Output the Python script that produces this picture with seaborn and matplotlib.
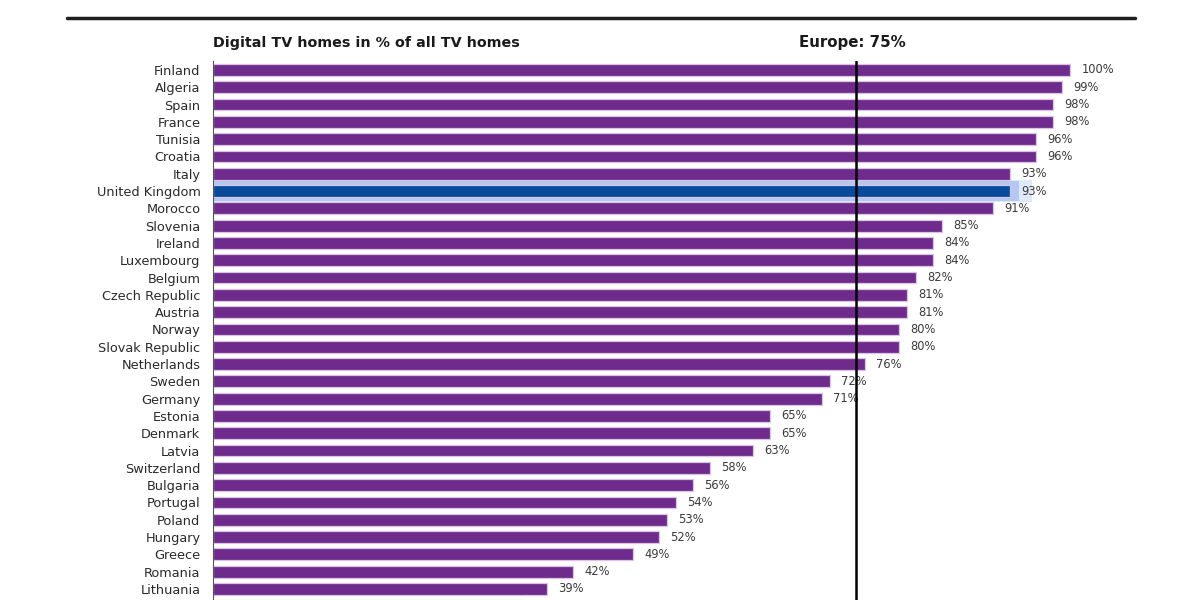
import matplotlib
matplotlib.use("Agg")
import matplotlib.pyplot as plt
import seaborn as sns
import numpy as np
from matplotlib.lines import Line2D

countries = ["Finland", "Algeria", "Spain", "France", "Tunisia", "Croatia", "Italy",
             "United Kingdom", "Morocco", "Slovenia", "Ireland", "Luxembourg", "Belgium",
             "Czech Republic", "Austria", "Norway", "Slovak Republic", "Netherlands",
             "Sweden", "Germany", "Estonia", "Denmark", "Latvia", "Switzerland",
             "Bulgaria", "Portugal", "Poland", "Hungary", "Greece", "Romania",
             "Lithuania", " "]
shares = [100, 99, 98, 98, 96, 96, 93, 93, 91, 85, 84, 84, 82, 81, 81, 80, 80, 76,
          72, 71, 65, 65, 63, 58, 56, 54, 53, 52, 49, 42, 39, 36]
europe_avg = 75
highlight = "United Kingdom"

purple = "#6E2B8B"
uk_blue = "#084B9C"
glow = "#A8C2F0"

sns.set_theme(style="white")
plt.rcParams['font.family'] = ['DejaVu Sans']

fig = plt.figure(figsize=(12, 6), dpi=100)
pitch = 17.3
top_px = 61.3
n = len(countries)
h_px = n * pitch
ax = fig.add_axes([213 / 1200, 1 - (top_px + h_px) / 600, 943 / 1200, h_px / 600])

colors = [uk_blue if c == highlight else purple for c in countries]

# glow behind the highlighted bar
ui = countries.index(highlight)
ax.barh(ui, shares[ui] + 2.5, height=1.3, color=glow, alpha=0.35, zorder=0, linewidth=0)
ax.barh(ui, shares[ui] + 1.0, height=1.15, color=glow, alpha=0.8, zorder=0, linewidth=0)
n_glow = len(ax.containers)

sns.barplot(x=shares, y=countries, hue=countries, palette=colors, legend=False,
            orient="h", width=0.68, ax=ax, edgecolor="#D9C4E6", linewidth=0.9,
            saturation=1, zorder=2)

for cont in ax.containers[n_glow:]:
    labs = []
    for v in cont:
        w = int(round(v.get_width()))
        labs.append("" if w == shares[-1] else f"{w}%")
    ax.bar_label(cont, labels=labs, padding=8, fontsize=8.3, color="#3A3A3A")

ax.axvline(europe_avg, color="black", lw=1.8, zorder=3)

ax.set_xlim(0, 110)
ax.set_ylim(n - 0.5, -0.5)
ax.set_xlabel("")
ax.set_ylabel("")
ax.set_xticks([])
ax.tick_params(axis="y", which="major", length=0, pad=9, labelsize=9.3, labelcolor="#2A2A2A")
ax.set_yticks(np.arange(n) - 0.5, minor=True)
ax.tick_params(axis="y", which="minor", length=4, width=0.8, color="#444444", direction="out")
for s in ["top", "right", "bottom"]:
    ax.spines[s].set_visible(False)
ax.spines["left"].set_color("#555555")
ax.spines["left"].set_linewidth(0.8)

fig.add_artist(Line2D([67 / 1200, 1135 / 1200], [1 - 18 / 600] * 2,
                      color="#1E1E1E", lw=2.5, transform=fig.transFigure))
fig.text(213 / 1200, 1 - 43 / 600, "Digital TV homes in % of all TV homes",
         fontsize=10.3, fontweight="bold", va="center", ha="left", color="#1A1A1A")
fig.text(852 / 1200, 1 - 43 / 600, "Europe: 75%",
         fontsize=10.8, fontweight="bold", va="center", ha="center", color="#1A1A1A")

fig.savefig("out.png", dpi=100)
